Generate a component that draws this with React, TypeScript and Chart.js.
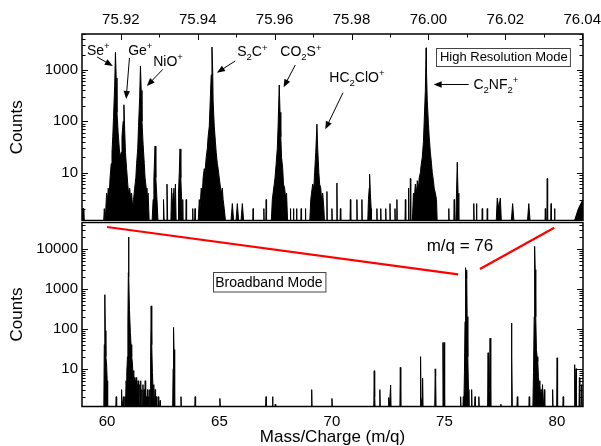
import React, { useEffect, useRef } from 'react';
import { Chart, registerables } from 'chart.js';

Chart.register(...registerables);

const FONT = '"Liberation Sans", Arial, Helvetica, sans-serif';

// ---------- axis ranges / ticks ----------
const hrMassRange = [75.9099, 76.0402];
const hrCountRange = [1.172, 5023];
const bbMassRange = [58.89, 81.16];
const bbCountRange = [1.135, 45200];
const hrTickValues = [75.92, 75.93, 75.94, 75.95, 75.96, 75.97, 75.98, 75.99, 76.0, 76.01, 76.02, 76.03, 76.04];
const bbTickValues = [60, 65, 70, 75, 80];
const hrCountTicks = [10, 100, 1000];
const bbCountTicks = [10, 100, 1000, 10000];

// ---------- high resolution spectrum (m/q, counts); 1 = empty channel ----------
const hrSpectrum: [number, number][] = [
  [75.9099, 1], [75.9100, 2], [75.9104, 2], [75.9105, 1],
  [75.9155, 1], [75.9157, 2], [75.9159, 1],
  [75.9161, 1], [75.9163, 4], [75.9166, 3], [75.9167, 5], [75.9170, 4], [75.9172, 8], [75.9175, 15], [75.9177, 25],
  [75.9179, 50], [75.9181, 120], [75.9184, 500], [75.9186, 2200], [75.9188, 700], [75.9190, 150], [75.9193, 60],
  [75.9196, 30], [75.9198, 20],
  [75.9201, 25], [75.9203, 50], [75.9206, 100], [75.9208, 210], [75.9210, 70], [75.9212, 25], [75.9215, 12],
  [75.9218, 6], [75.9220, 4], [75.9223, 5], [75.9226, 3], [75.9228, 4], [75.9231, 2],
  [75.9233, 3], [75.9236, 5], [75.9239, 8], [75.9241, 15], [75.9244, 30], [75.9246, 80], [75.9249, 300],
  [75.9251, 1200], [75.9253, 400], [75.9255, 100], [75.9258, 35], [75.9261, 15], [75.9263, 8], [75.9266, 5],
  [75.9268, 3], [75.9271, 4], [75.9274, 1],
  [75.9281, 1], [75.9284, 3], [75.9286, 8], [75.9289, 33], [75.9291, 8], [75.9294, 3], [75.9297, 1],
  [75.9310, 1], [75.9311, 3], [75.9313, 1], [75.9318, 1], [75.9320, 6], [75.9322, 1], [75.9330, 1], [75.9332, 5],
  [75.9334, 2], [75.9336, 4], [75.9338, 5], [75.9340, 2], [75.9342, 6], [75.9344, 1], [75.9349, 1], [75.9350, 4],
  [75.9352, 10], [75.9354, 29], [75.9356, 8], [75.9358, 3], [75.9360, 1], [75.9361, 3], [75.9362, 1],
  [75.9369, 1], [75.9370, 3], [75.9371, 1], [75.9386, 1], [75.9387, 2], [75.9388, 1], [75.9392, 1], [75.9393, 2], [75.9394, 1],
  [75.9401, 1], [75.9404, 3], [75.9406, 2], [75.9409, 5], [75.9412, 4], [75.9414, 8], [75.9417, 12], [75.9419, 10],
  [75.9422, 20], [75.9425, 30], [75.9427, 50], [75.9430, 80], [75.9432, 200], [75.9435, 800], [75.9437, 2800],
  [75.9439, 900], [75.9440, 250], [75.9443, 80], [75.9446, 40], [75.9448, 25], [75.9451, 15], [75.9453, 12],
  [75.9456, 8], [75.9458, 6], [75.9461, 4], [75.9464, 5], [75.9466, 3], [75.9469, 2], [75.9473, 1],
  [75.9486, 1], [75.9490, 2.5], [75.9494, 1], [75.9499, 1], [75.9503, 2.5], [75.9507, 1], [75.9512, 1], [75.9516, 2.5],
  [75.9520, 1], [75.9543, 1], [75.9544, 2], [75.9545, 1], [75.9571, 1], [75.9572, 2], [75.9573, 1], [75.9577, 1],
  [75.9578, 3], [75.9579, 1],
  [75.9591, 1], [75.9594, 3], [75.9596, 4], [75.9599, 6], [75.9601, 8], [75.9604, 15], [75.9607, 30], [75.9609, 80],
  [75.9612, 510], [75.9614, 150], [75.9616, 50], [75.9618, 20], [75.9621, 12], [75.9623, 6], [75.9626, 5],
  [75.9629, 3], [75.9631, 4], [75.9634, 1],
  [75.9640, 1], [75.9641, 2], [75.9642, 1], [75.9648, 1], [75.9649, 2], [75.9650, 1], [75.9656, 1], [75.9657, 2],
  [75.9658, 1], [75.9668, 1], [75.9669, 2], [75.9670, 1], [75.9679, 1], [75.9680, 2], [75.9681, 1],
  [75.9691, 1], [75.9694, 3], [75.9696, 4], [75.9699, 6], [75.9702, 5], [75.9704, 10], [75.9707, 25], [75.9710, 88],
  [75.9712, 30], [75.9715, 10], [75.9717, 6], [75.9720, 5], [75.9722, 3], [75.9725, 4], [75.9728, 2], [75.9730, 1],
  [75.9735, 1], [75.9736, 4.3], [75.9737, 1], [75.9748, 1], [75.9749, 2], [75.9750, 1], [75.9761, 1], [75.9762, 6.3],
  [75.9763, 1], [75.9770, 1], [75.9771, 2], [75.9772, 1], [75.9796, 1], [75.9797, 3], [75.9798, 1], [75.9813, 1],
  [75.9814, 3], [75.9815, 1], [75.9826, 1], [75.9827, 3], [75.9828, 1],
  [75.9842, 1], [75.9844, 3], [75.9846, 5], [75.9847, 9.4], [75.9849, 4], [75.9851, 2], [75.9852, 1],
  [75.9865, 1], [75.9866, 2], [75.9867, 1], [75.9875, 1], [75.9876, 2], [75.9877, 1], [75.9888, 1], [75.9889, 2],
  [75.9890, 1], [75.9899, 1], [75.9900, 2.5], [75.9901, 1], [75.9912, 1], [75.9913, 2], [75.9914, 1], [75.9917, 1],
  [75.9918, 3], [75.9919, 1], [75.9939, 1], [75.9940, 3], [75.9941, 1], [75.9947, 1], [75.9948, 5], [75.9949, 1],
  [75.9952, 1], [75.9953, 7.7], [75.9954, 1],
  [75.9958, 1], [75.9961, 4], [75.9963, 3], [75.9966, 6], [75.9969, 4], [75.9971, 7], [75.9974, 5], [75.9976, 8],
  [75.9979, 10], [75.9981, 14], [75.9984, 20], [75.9987, 40], [75.9989, 100], [75.9992, 400], [75.9994, 2700],
  [75.9995, 900], [75.9997, 250], [76.0000, 90], [76.0002, 50], [76.0005, 25], [76.0008, 15], [76.0010, 10],
  [76.0013, 7], [76.0015, 5], [76.0018, 4], [76.0021, 3], [76.0023, 1],
  [76.0052, 1], [76.0053, 2], [76.0054, 1], [76.0066, 1], [76.0067, 3], [76.0068, 1], [76.0071, 1], [76.0073, 4],
  [76.0075, 16], [76.0077, 4], [76.0079, 1], [76.0117, 1], [76.0118, 2.5], [76.0119, 1], [76.0124, 1], [76.0125, 2.5],
  [76.0126, 1], [76.0139, 1], [76.0140, 2], [76.0141, 1], [76.0152, 1], [76.0153, 2], [76.0154, 1], [76.0176, 1],
  [76.0179, 3.2], [76.0183, 2], [76.0187, 3.2], [76.0190, 1], [76.0215, 1], [76.0219, 2.5], [76.0223, 1],
  [76.0257, 1], [76.0261, 2.5], [76.0265, 1], [76.0303, 1], [76.0304, 2], [76.0305, 1], [76.0308, 1], [76.0309, 7.7],
  [76.0310, 1], [76.0318, 1], [76.0319, 2.5], [76.0320, 1], [76.0327, 1], [76.0328, 2], [76.0329, 1],
  [76.0377, 1], [76.0390, 2], [76.0402, 3],
];

// ---------- broadband spectrum (m/q, counts); 1 = empty channel ----------
const bbSpectrum: [number, number][] = [
  [58.89, 1],
  [59.86, 1], [59.88, 40], [59.905, 708], [59.925, 90], [59.95, 20], [59.98, 14], [60.01, 5], [60.03, 1],
  [60.39, 1], [60.41, 2], [60.43, 1], [60.63, 1], [60.65, 3], [60.67, 1], [60.71, 1], [60.73, 2], [60.75, 1],
  [60.78, 1], [60.80, 2], [60.82, 1],
  [60.84, 1], [60.85, 5], [60.87, 3], [60.89, 8], [60.91, 20], [60.93, 150], [60.95, 2500], [60.96, 19600],
  [60.975, 2000], [61.00, 300], [61.04, 80], [61.07, 40], [61.10, 20], [61.13, 14], [61.16, 6], [61.18, 9],
  [61.20, 4], [61.22, 6], [61.24, 2], [61.26, 5], [61.28, 3], [61.30, 6], [61.32, 2], [61.34, 4], [61.36, 1],
  [61.38, 5], [61.40, 2], [61.42, 3], [61.44, 1], [61.46, 4], [61.48, 2], [61.50, 5], [61.52, 1], [61.55, 3],
  [61.57, 1], [61.60, 4], [61.62, 1], [61.65, 3], [61.67, 1], [61.70, 5], [61.72, 1], [61.75, 2], [61.77, 1],
  [61.80, 3], [61.82, 1], [61.85, 2], [61.87, 1], [61.90, 3], [61.92, 1],
  [61.94, 20], [61.965, 372], [61.99, 40], [62.02, 8], [62.05, 3], [62.07, 1], [62.09, 4], [62.11, 1], [62.14, 3],
  [62.16, 1], [62.19, 2], [62.21, 1], [62.26, 1], [62.28, 2], [62.30, 1], [62.34, 1], [62.36, 1.6], [62.38, 1],
  [62.92, 1], [62.94, 10], [62.96, 108], [62.98, 30], [63.00, 3], [63.02, 1],
  [63.27, 1], [63.29, 2], [63.31, 1], [63.90, 1], [63.92, 2], [63.94, 1], [65.00, 1], [65.02, 1.8], [65.04, 1],
  [67.05, 1], [67.07, 2], [67.09, 1], [67.34, 1], [67.36, 2], [67.38, 1], [67.46, 1], [67.48, 1.3], [67.50, 1],
  [69.08, 1], [69.10, 3], [69.12, 1], [69.98, 1], [70.00, 1.8], [70.02, 1],
  [71.86, 1], [71.88, 8.9], [71.90, 2], [71.92, 1], [72.11, 1], [72.13, 3], [72.15, 1],
  [72.50, 1], [72.52, 1.9], [72.56, 1.2], [72.61, 3.9], [72.63, 1], [73.02, 1], [73.04, 10.8], [73.06, 1],
  [73.92, 1], [73.94, 20], [73.96, 2], [74.01, 1], [74.03, 5.8], [74.05, 1],
  [74.57, 1], [74.59, 9.9], [74.61, 6.5], [74.63, 1], [74.91, 1], [74.935, 45], [74.96, 3], [74.985, 45], [75.01, 1],
  [75.70, 1], [75.72, 2], [75.74, 1], [75.82, 1], [75.84, 2], [75.86, 1],
  [75.89, 8], [75.915, 150], [75.94, 3350], [75.965, 1800], [75.99, 2900], [76.01, 200], [76.04, 20], [76.07, 3], [76.09, 1],
  [76.19, 1], [76.21, 3], [76.23, 1], [76.34, 1], [76.36, 2], [76.38, 1], [76.51, 1], [76.53, 2], [76.55, 1],
  [76.92, 1], [76.94, 25], [76.96, 2], [77.00, 3], [77.03, 58], [77.05, 20], [77.07, 1],
  [77.49, 1], [77.51, 1.3], [77.53, 1], [77.96, 1], [77.98, 139], [78.00, 20], [78.02, 1],
  [78.22, 1], [78.24, 2], [78.26, 1], [78.75, 1], [78.77, 2], [78.79, 1],
  [78.93, 1], [78.96, 8], [78.99, 200], [79.01, 11500], [79.035, 3000], [79.06, 200], [79.09, 30], [79.12, 20],
  [79.15, 15], [79.18, 6], [79.21, 4], [79.24, 5], [79.27, 2], [79.30, 3], [79.33, 1], [79.36, 4], [79.39, 1],
  [79.44, 3], [79.46, 1], [79.79, 1], [79.81, 3], [79.83, 1], [79.99, 1], [80.01, 18.7], [80.03, 1],
  [80.26, 1], [80.28, 2], [80.30, 1], [80.76, 1], [80.79, 12.6], [80.82, 2], [80.85, 10], [80.87, 1],
  [80.98, 1], [81.00, 6], [81.02, 1], [81.08, 1], [81.10, 4], [81.12, 1], [81.16, 1],
];

// ---------- zoom indicator lines (m/q, counts) on the broadband panel ----------
const zoomLineLeft: [number, number][] = [[60.0, 34860], [75.61, 2290]];
const zoomLineRight: [number, number][] = [[76.58, 3110], [79.88, 33500]];

type Seg = { t: string; s?: 'sup' | 'sub' };
const hrLabels: { text: Seg[]; at: [number, number]; from: [number, number]; to: [number, number] }[] = [
  { text: [{ t: 'Se' }, { t: '+', s: 'sup' }], at: [75.9112, 1959], from: [75.91383, 1791], to: [75.91792, 1196] },
  { text: [{ t: 'Ge' }, { t: '+', s: 'sup' }], at: [75.9219, 1959], from: [75.92224, 1713], to: [75.92138, 272] },
  { text: [{ t: 'NiO' }, { t: '+', s: 'sup' }], at: [75.92841, 1196], from: [75.93093, 1032], to: [75.92677, 488] },
  { text: [{ t: 'S' }, { t: '2', s: 'sub' }, { t: 'C' }, { t: '+', s: 'sup' }], at: [75.95027, 1832], from: [75.94975, 1497], to: [75.94499, 886] },
  { text: [{ t: 'CO' }, { t: '2', s: 'sub' }, { t: 'S' }, { t: '+', s: 'sup' }], at: [75.96147, 1832], from: [75.96537, 1251], to: [75.96233, 460] },
  { text: [{ t: 'HC' }, { t: '2', s: 'sub' }, { t: 'ClO' }, { t: '+', s: 'sup' }], at: [75.97422, 592], from: [75.97778, 361], to: [75.97318, 70] },
  { text: [{ t: 'C' }, { t: '2', s: 'sub' }, { t: 'NF' }, { t: '2', s: 'sub' }, { t: '+', s: 'sup' }], at: [76.0117, 427], from: [76.01048, 522], to: [76.00137, 522] },
];

function drawRich(ctx: CanvasRenderingContext2D, segs: Seg[], x: number, y: number, size: number) {
  let cx = x;
  ctx.textBaseline = 'alphabetic';
  ctx.textAlign = 'left';
  for (const seg of segs) {
    const fs = seg.s ? size * 0.68 : size;
    ctx.font = `${fs}px ${FONT}`;
    const dy = seg.s === 'sup' ? -size * 0.42 : seg.s === 'sub' ? size * 0.28 : 0;
    ctx.fillText(seg.t, cx, y + dy);
    cx += ctx.measureText(seg.t).width;
  }
}

function drawArrow(ctx: CanvasRenderingContext2D, x1: number, y1: number, x2: number, y2: number) {
  const ang = Math.atan2(y2 - y1, x2 - x1);
  const L = 8, W = 3.2;
  const c = Math.cos(ang), s = Math.sin(ang);
  ctx.beginPath();
  ctx.moveTo(x1, y1);
  ctx.lineTo(x2 - L * c * 0.8, y2 - L * s * 0.8);
  ctx.stroke();
  ctx.beginPath();
  ctx.moveTo(x2, y2);
  ctx.lineTo(x2 - L * c + W * s, y2 - L * s - W * c);
  ctx.lineTo(x2 - L * c - W * s, y2 - L * s + W * c);
  ctx.closePath();
  ctx.fill();
}

function drawFrameAndTicks(chart: any, xTickVals: number[] | null, xOnTop: boolean) {
  const { ctx, chartArea: a } = chart;
  const xs = chart.scales.x;
  const ys = chart.scales.y;
  ctx.save();
  ctx.strokeStyle = '#000';
  ctx.lineWidth = 1;
  const seg = (x1: number, y1: number, x2: number, y2: number) => {
    ctx.beginPath();
    ctx.moveTo(x1, y1);
    ctx.lineTo(x2, y2);
    ctx.stroke();
  };
  for (let e = 0; e <= 5; e++) {
    for (let m = 1; m <= 9; m++) {
      const v = m * Math.pow(10, e);
      if (v < ys.min || v > ys.max) continue;
      const py = Math.round(ys.getPixelForValue(v)) + 0.5;
      const len = m === 1 ? 6 : 3.5;
      seg(a.left, py, a.left + len, py);
      seg(a.right, py, a.right - len, py);
    }
  }
  if (xTickVals && xOnTop) {
    xTickVals.forEach((v, i) => {
      const px = Math.round(xs.getPixelForValue(v)) + 0.5;
      const len = i % 2 === 0 ? 6 : 3.5;
      seg(px, a.top, px, a.top + len);
    });
  }
  ctx.lineWidth = 1.5;
  ctx.strokeRect(a.left, a.top, a.right - a.left, a.bottom - a.top);
  ctx.restore();
}

const hrDecor = {
  id: 'hrDecor',
  afterDatasetsDraw(chart: any) {
    drawFrameAndTicks(chart, hrTickValues, true);
    const { ctx } = chart;
    const xs = chart.scales.x;
    const ys = chart.scales.y;
    const P = (p: [number, number]) => [xs.getPixelForValue(p[0]), ys.getPixelForValue(p[1])];
    ctx.save();
    ctx.fillStyle = '#000';
    ctx.strokeStyle = '#000';
    ctx.lineWidth = 1;
    for (const lab of hrLabels) {
      const [tx, ty] = P(lab.at);
      drawRich(ctx, lab.text, tx, ty, 14);
      const [fx, fy] = P(lab.from);
      const [gx, gy] = P(lab.to);
      drawArrow(ctx, fx, fy, gx, gy);
    }
    // mode box
    const [bx, by] = P([76.00207, 1816]);
    ctx.font = `13px ${FONT}`;
    const t = 'High Resolution Mode';
    const w = ctx.measureText(t).width;
    ctx.strokeStyle = '#444';
    ctx.strokeRect(Math.round(bx) + 0.5, Math.round(by - 9) + 0.5, w + 6, 18);
    ctx.textBaseline = 'middle';
    ctx.fillText(t, bx + 3.5, by + 1);
    ctx.restore();
  },
};

const bbDecor = {
  id: 'bbDecor',
  afterDatasetsDraw(chart: any) {
    drawFrameAndTicks(chart, null, false);
    const { ctx } = chart;
    const xs = chart.scales.x;
    const ys = chart.scales.y;
    ctx.save();
    ctx.fillStyle = '#000';
    // m/q = 76 label
    ctx.font = `17px ${FONT}`;
    ctx.textAlign = 'left';
    ctx.textBaseline = 'alphabetic';
    ctx.fillText('m/q = 76', xs.getPixelForValue(74.209), ys.getPixelForValue(9016));
    // mode box
    const bx = xs.getPixelForValue(64.698);
    const by = ys.getPixelForValue(1454);
    ctx.font = `14px ${FONT}`;
    const t = 'Broadband Mode';
    const w = ctx.measureText(t).width;
    ctx.strokeStyle = '#444';
    ctx.lineWidth = 1;
    ctx.strokeRect(Math.round(bx) + 0.5, Math.round(by - 10) + 0.5, w + 5, 19.5);
    ctx.textBaseline = 'middle';
    ctx.fillText(t, bx + 2.5, by + 1);
    ctx.restore();
  },
};

const tickFont = { family: FONT, size: 15 };
const titleFont = { family: FONT, size: 17, lineHeight: 1.2 };

function zeroPad(s: any) {
  s.paddingLeft = 0;
  s.paddingRight = 0;
  s.paddingTop = 0;
  s.paddingBottom = 0;
}

export default function App() {
  const topRef = useRef<HTMLCanvasElement>(null);
  const botRef = useRef<HTMLCanvasElement>(null);

  useEffect(() => {
    const top = new Chart(topRef.current as HTMLCanvasElement, {
      type: 'line',
      data: {
        datasets: [
          {
            data: hrSpectrum.map(([x, y]) => ({ x, y })),
            borderColor: '#000',
            backgroundColor: '#000',
            borderWidth: 1,
            fill: 'start',
            pointRadius: 0,
            tension: 0,
            clip: 0,
          } as any,
        ],
      },
      options: {
        animation: false,
        responsive: false,
        events: [],
        layout: { padding: { left: 0, right: 18, top: 0, bottom: 1.5 } },
        plugins: { legend: { display: false }, tooltip: { enabled: false } },
        scales: {
          x: {
            type: 'linear',
            position: 'top',
            min: hrMassRange[0],
            max: hrMassRange[1],
            afterBuildTicks: (s: any) => {
              s.ticks = hrTickValues.map((v) => ({ value: v }));
            },
            afterFit: (s: any) => {
              s.height = 34;
              zeroPad(s);
            },
            grid: { display: false, drawTicks: false },
            border: { display: false },
            ticks: {
              autoSkip: false,
              maxRotation: 0,
              padding: 5.5,
              color: '#000',
              font: tickFont,
              callback: (v: any, i: number) => (i % 2 === 0 ? Number(v).toFixed(2) : ''),
            },
          },
          y: {
            type: 'logarithmic',
            position: 'left',
            min: hrCountRange[0],
            max: hrCountRange[1],
            afterBuildTicks: (s: any) => {
              s.ticks = hrCountTicks.map((v) => ({ value: v }));
            },
            afterFit: (s: any) => {
              s.width = 82;
              zeroPad(s);
            },
            grid: { display: false, drawTicks: false },
            border: { display: false },
            ticks: { autoSkip: false, padding: 4, color: '#000', font: tickFont, callback: (v: any) => String(v) },
            title: { display: true, text: 'Counts', color: '#000', font: titleFont, padding: { top: 7.3, bottom: 0 } },
          },
        },
      } as any,
      plugins: [hrDecor],
    });

    const bot = new Chart(botRef.current as HTMLCanvasElement, {
      type: 'line',
      data: {
        datasets: [
          {
            data: zoomLineLeft.map(([x, y]) => ({ x, y })),
            borderColor: '#ff0000',
            borderWidth: 2.2,
            fill: false,
            pointRadius: 0,
          } as any,
          {
            data: zoomLineRight.map(([x, y]) => ({ x, y })),
            borderColor: '#ff0000',
            borderWidth: 2.2,
            fill: false,
            pointRadius: 0,
          } as any,
          {
            data: bbSpectrum.map(([x, y]) => ({ x, y })),
            borderColor: '#000',
            backgroundColor: '#000',
            borderWidth: 1,
            fill: 'start',
            pointRadius: 0,
            tension: 0,
            clip: 0,
          } as any,
        ],
      },
      options: {
        animation: false,
        responsive: false,
        events: [],
        layout: { padding: { left: 0, right: 18, top: 0.5, bottom: 0 } },
        plugins: { legend: { display: false }, tooltip: { enabled: false } },
        scales: {
          x: {
            type: 'linear',
            position: 'bottom',
            min: bbMassRange[0],
            max: bbMassRange[1],
            afterBuildTicks: (s: any) => {
              s.ticks = bbTickValues.map((v) => ({ value: v }));
            },
            afterFit: (s: any) => {
              s.height = 39.5;
              zeroPad(s);
            },
            grid: { display: false, drawTicks: false },
            border: { display: false },
            ticks: { autoSkip: false, maxRotation: 0, padding: 6, color: '#000', font: tickFont, callback: (v: any) => String(v) },
            title: {
              display: true,
              text: 'Mass/Charge (m/q)',
              color: '#000',
              font: { family: FONT, size: 17, lineHeight: 1 },
              padding: { top: 0, bottom: 0.5 },
            },
          },
          y: {
            type: 'logarithmic',
            position: 'left',
            min: bbCountRange[0],
            max: bbCountRange[1],
            afterBuildTicks: (s: any) => {
              s.ticks = bbCountTicks.map((v) => ({ value: v }));
            },
            afterFit: (s: any) => {
              s.width = 82;
              zeroPad(s);
            },
            grid: { display: false, drawTicks: false },
            border: { display: false },
            ticks: { autoSkip: false, padding: 4, color: '#000', font: tickFont, callback: (v: any) => String(v) },
            title: { display: true, text: 'Counts', color: '#000', font: titleFont, padding: { top: 7.3, bottom: 0 } },
          },
        },
      } as any,
      plugins: [bbDecor],
    });

    return () => {
      top.destroy();
      bot.destroy();
    };
  }, []);

  return (
    <div style={{ position: 'absolute', left: 0, top: 0, width: 601, height: 446, background: '#fff', overflow: 'hidden' }}>
      <canvas ref={topRef} width={601} height={222} style={{ position: 'absolute', left: 0, top: 0, width: 601, height: 222 }} />
      <canvas ref={botRef} width={601} height={224} style={{ position: 'absolute', left: 0, top: 222, width: 601, height: 224 }} />
    </div>
  );
}
